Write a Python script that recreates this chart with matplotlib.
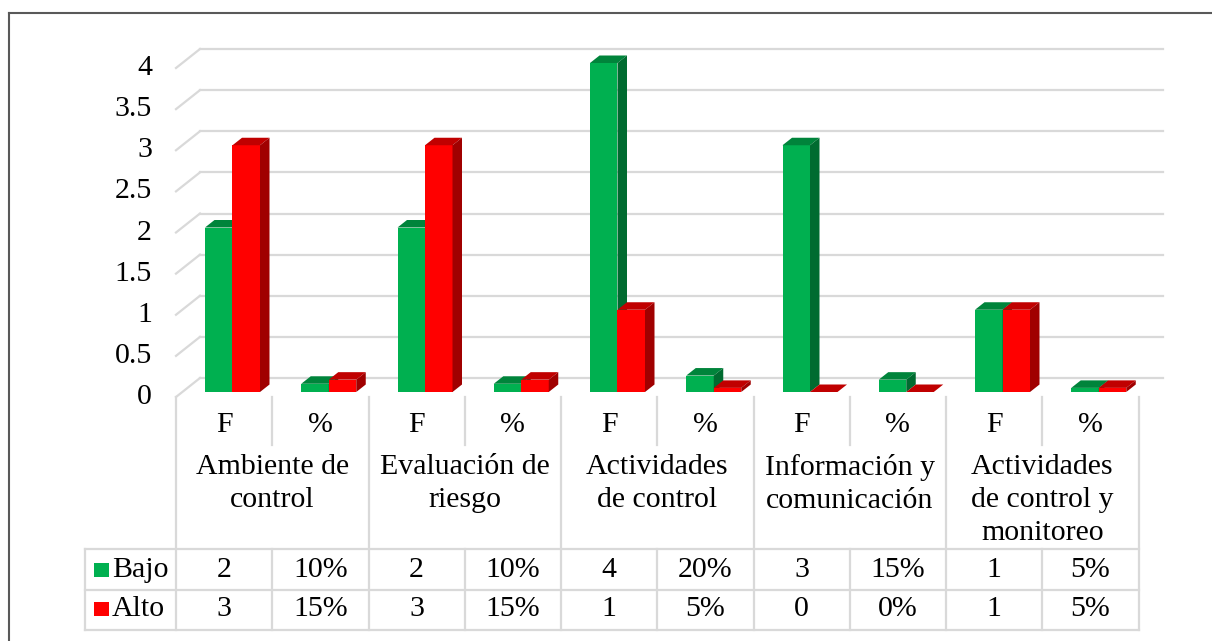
import numpy as np
import matplotlib.pyplot as plt
from matplotlib.patches import Polygon, Rectangle
from matplotlib.lines import Line2D

plt.rcParams['font.family'] = ['Liberation Serif', 'DejaVu Serif']

# data
categorias = ["Ambiente de\ncontrol", "Evaluación de\nriesgo", "Actividades\nde control",
              "Información y\ncomunicación", "Actividades\nde control y\nmonitoreo"]
sub = ["F", "%"]
bajo_f = [2, 2, 4, 3, 1]
alto_f = [3, 3, 1, 0, 1]
bajo_pct = [10, 10, 20, 15, 5]
alto_pct = [15, 15, 5, 0, 5]
yticks = [0, 0.5, 1, 1.5, 2, 2.5, 3, 3.5, 4]

# one slot per F / % column
bajo = []
alto = []
bajo_txt = []
alto_txt = []
for i in range(len(categorias)):
    bajo += [bajo_f[i], bajo_pct[i] / 100]
    alto += [alto_f[i], alto_pct[i] / 100]
    bajo_txt += [str(bajo_f[i]), f"{bajo_pct[i]}%"]
    alto_txt += [str(alto_f[i]), f"{alto_pct[i]}%"]
n = len(bajo)

VERDE, VERDE_TOP, VERDE_SIDE = "#00B050", "#00843B", "#006B30"
ROJO, ROJO_TOP, ROJO_SIDE = "#FF0000", "#C00000", "#A00000"
GRID = "#D9D9D9"
FS = 21.5

W, H = 1212, 641
fig = plt.figure(figsize=(W / 100, H / 100), dpi=100)
ax = fig.add_axes([0, 0, 1, 1])
ax.axis("off")

# scale: one slot = 96.25 px, one unit = 82.25 px, origin at front-left floor corner
sx, sy = 96.25, 82.25
x0, y0 = 176, 397
ax.set_xlim(-x0 / sx, (W - x0) / sx)
ax.set_ylim((y0 - H) / sy, y0 / sy)

def px(x):
    return (x - x0) / sx

def py(y):
    return (y0 - y) / sy

# depth of the floor and of the bars
DX, DY = 24 / sx, 19 / sy
bdx, bdy = 9.5 / sx, 7.5 / sy
base = 5 / sy
bw = 27.5 / sx
boff = 29 / sx

# walls: back gridlines and side diagonals
for v in yticks:
    ax.plot([DX, n + DX], [v + DY, v + DY], color=GRID, lw=1.6, zorder=1)
    ax.plot([0, DX], [v, v + DY], color=GRID, lw=1.6, zorder=1)
    ax.text(px(152), v, f"{v:g}", ha="right", va="center", fontsize=FS)


def bar3d(x, v, front, top, side, z):
    ax.bar(x, v, width=bw, bottom=base, align="edge", color=front, lw=0, zorder=z)
    t = base + v
    ax.add_patch(Polygon([(x, t), (x + bw, t), (x + bw + bdx, t + bdy), (x + bdx, t + bdy)],
                         closed=True, fc=top, ec="none", zorder=z))
    ax.add_patch(Polygon([(x + bw, base), (x + bw, t), (x + bw + bdx, t + bdy), (x + bw + bdx, base + bdy)],
                         closed=True, fc=side, ec="none", zorder=z))


for i in range(n):
    bar3d(i + boff, bajo[i], VERDE, VERDE_TOP, VERDE_SIDE, 3 + 2 * i)
    bar3d(i + boff + bw, alto[i], ROJO, ROJO_TOP, ROJO_SIDE, 4 + 2 * i)

# category axis and data table
y_sub, y_tab, y_mid, y_bot = py(445), py(549), py(590), py(630)
x_leg = px(85)
for k in range(0, n + 1, 2):
    ax.plot([k, k], [0, y_bot], color=GRID, lw=1.6, zorder=1)
for k in range(1, n, 2):
    ax.plot([k, k], [0, y_sub], color=GRID, lw=1.6, zorder=1)
    ax.plot([k, k], [y_tab, y_bot], color=GRID, lw=1.6, zorder=1)
for yy in (y_tab, y_mid, y_bot):
    ax.plot([x_leg, n], [yy, yy], color=GRID, lw=1.6, zorder=1)
ax.plot([x_leg, x_leg], [y_tab, y_bot], color=GRID, lw=1.6, zorder=1)

for i in range(n):
    ax.text(i + 0.5, py(425), sub[i % 2], ha="center", va="center", fontsize=FS)
    ax.text(i + 0.5, py(570), bajo_txt[i], ha="center", va="center", fontsize=FS)
    ax.text(i + 0.5, py(609), alto_txt[i], ha="center", va="center", fontsize=FS)
for j, c in enumerate(categorias):
    ax.text(2 * j + 1, py(454), c, ha="center", va="top", fontsize=FS, linespacing=1.36)

# legend keys inside the table
for yc, col, lab in ((570, VERDE, "Bajo"), (609, ROJO, "Alto")):
    ax.add_patch(Rectangle((px(94), py(yc + 7)), 15 / sx, 14 / sy, fc=col, ec="none"))
    ax.text(px(112), py(yc), lab, ha="left", va="center", fontsize=FS)

# chart frame
fig.add_artist(Line2D([9 / W, 9 / W], [0, 1 - 13 / H], color="#595959", lw=1.5))
fig.add_artist(Line2D([9 / W, 1], [1 - 13 / H, 1 - 13 / H], color="#595959", lw=1.5))

fig.savefig("out.png", dpi=100)
